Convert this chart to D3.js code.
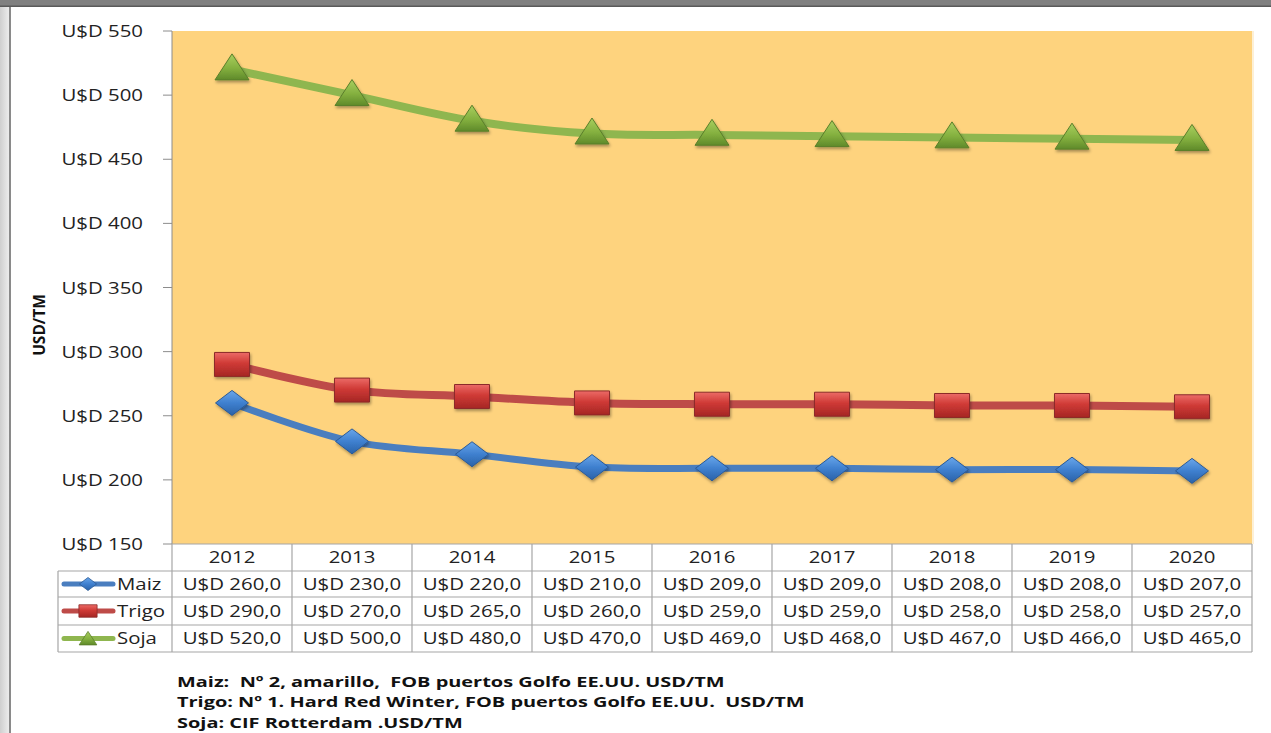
<!DOCTYPE html>
<html><head><meta charset="utf-8">
<script src="https://cdn.jsdelivr.net/npm/d3@7"></script>
<style>body{margin:0;background:#fff;}svg{display:block;}</style>
</head><body>
<svg id="c" width="1271" height="733"></svg>
<script>
const years = ["2012","2013","2014","2015","2016","2017","2018","2019","2020"];
const maiz  = [260,230,220,210,209,209,208,208,207];
const trigo = [290,270,265,260,259,259,258,258,257];
const soja  = [520,500,480,470,469,468,467,466,465];
const yTicks = [150,200,250,300,350,400,450,500,550];
const seriesNames = ["Maiz","Trigo","Soja"];
const notes = [
  "Maiz:  Nº 2, amarillo,  FOB puertos Golfo EE.UU. USD/TM",
  "Trigo: Nº 1. Hard Red Winter, FOB puertos Golfo EE.UU.  USD/TM",
  "Soja: CIF Rotterdam .USD/TM"
];

const svg = d3.select("#c");
const FONT = "'Open Sans', sans-serif";
const SX = 1.2;
const L = 172, R = 1252, T = 31, B = 544;
const x = d3.scaleBand().domain(years).range([L, R]);
const cx = d => x(d) + x.bandwidth()/2;
const y = d3.scaleLinear().domain([150,550]).range([B, T]);

const defs = svg.append("defs");
function grad(id, stops){
  const g = defs.append("linearGradient").attr("id",id).attr("x1",0).attr("y1",0).attr("x2",0).attr("y2",1);
  stops.forEach(s=>g.append("stop").attr("offset",s[0]).attr("stop-color",s[1]));
}
grad("gG", [[0,"#a9cf5f"],[0.55,"#84b03f"],[1,"#5f8a2a"]]);
grad("gR", [[0,"#ec6b67"],[0.45,"#cf3a36"],[1,"#a52624"]]);
grad("gB", [[0,"#69a6ea"],[0.5,"#3f80cf"],[1,"#2a62a8"]]);
const f = defs.append("filter").attr("id","sh").attr("x","-30%").attr("y","-30%").attr("width","160%").attr("height","170%");
f.append("feDropShadow").attr("dx",1).attr("dy",2).attr("stdDeviation",1.5).attr("flood-color","#000").attr("flood-opacity",0.35);

// frame
svg.append("rect").attr("x",0).attr("y",0).attr("width",1271).attr("height",733).attr("fill","#fff");
const lg = defs.append("linearGradient").attr("id","lb").attr("x1",0).attr("x2",1).attr("y1",0).attr("y2",0);
lg.append("stop").attr("offset",0).attr("stop-color","#cfcfcf");
lg.append("stop").attr("offset",1).attr("stop-color","#ececec");
svg.append("rect").attr("x",0).attr("y",0).attr("width",9).attr("height",733).attr("fill","url(#lb)");
svg.append("rect").attr("x",9).attr("y",0).attr("width",2).attr("height",733).attr("fill","#8a8a8a");
svg.append("rect").attr("x",0).attr("y",0).attr("width",1271).attr("height",6).attr("fill","#808080");
svg.append("rect").attr("x",0).attr("y",5.5).attr("width",1271).attr("height",1.5).attr("fill","#5a5a5a");

// plot area
svg.append("rect").attr("x",L).attr("y",T).attr("width",R-L).attr("height",B-T).attr("fill","#fed37e");
svg.append("line").attr("x1",R+1).attr("x2",R+1).attr("y1",T).attr("y2",B).attr("stroke","#fdf0d6").attr("stroke-width",2);

function stext(g, tx, ty, txt, opts){
  const t = g.append("text").attr("transform",`translate(${tx},${ty}) scale(${opts.sx||SX},1)`)
    .attr("font-family",FONT).attr("font-size",opts.size||17).attr("fill",opts.fill||"#222")
    .attr("text-anchor",opts.anchor||"start").style("white-space","pre").text(txt);
  if(opts.weight) t.attr("font-weight",opts.weight);
  return t;
}

// y axis
const ya = svg.append("g");
ya.append("line").attr("x1",L).attr("x2",L).attr("y1",T).attr("y2",B).attr("stroke","#8c8c8c");
yTicks.forEach(v=>{
  ya.append("line").attr("x1",L-9).attr("x2",L).attr("y1",y(v)).attr("y2",y(v)).attr("stroke","#8c8c8c");
  stext(ya, 143, y(v)+6, "U$D "+v, {anchor:"end"});
});
svg.append("text").attr("transform","translate(45,325) rotate(-90)").attr("text-anchor","middle")
  .attr("font-family",FONT).attr("font-weight","bold").attr("font-size",15.5).attr("fill","#111").text("USD/TM");

// series
const series = [
  {name:"Maiz", vals:maiz, line:"#4a7ebf", fill:"url(#gB)", stroke:"#2a5a97", shape:"diamond", w:7},
  {name:"Trigo", vals:trigo, line:"#be4b48", fill:"url(#gR)", stroke:"#8c2b29", shape:"square", w:8},
  {name:"Soja", vals:soja, line:"#8fb64f", fill:"url(#gG)", stroke:"#5a7f2a", shape:"triangle", w:8}
];
function shapePath(shape, s){
  if(shape==="diamond"){const w=16.5*s,h=12.5*s;return `M0,${-h}L${w},0L0,${h}L${-w},0Z`;}
  if(shape==="square"){const w=17.5*s,h=12*s;return `M${-w},${-h}H${w}V${h}H${-w}Z`;}
  const w=17*s,h=26*s;return `M0,${-h*0.6}L${w},${h*0.4}L${-w},${h*0.4}Z`;
}
const lineGen = d3.line().x((d,i)=>cx(years[i])).y(d=>y(d)).curve(d3.curveCatmullRom.alpha(0.5));
series.forEach(s=>{
  svg.append("path").attr("d",lineGen(s.vals)).attr("fill","none").attr("stroke",s.line)
    .attr("stroke-width",s.w).attr("stroke-linejoin","round");
});
series.forEach(s=>{
  const g = svg.append("g");
  s.vals.forEach((v,i)=>{
    g.append("path").attr("transform",`translate(${cx(years[i])},${y(v)})`).attr("d",shapePath(s.shape,1))
      .attr("fill",s.fill).attr("stroke",s.stroke).attr("stroke-width",1).attr("filter","url(#sh)");
  });
});

// data table
const rowY = [544, 571, 597, 625, 652];
const tb = svg.append("g").attr("stroke","#a6a6a6").attr("stroke-width",1.2);
tb.append("line").attr("x1",L).attr("x2",R).attr("y1",rowY[0]).attr("y2",rowY[0]);
for(let k=1;k<rowY.length;k++) tb.append("line").attr("x1",58).attr("x2",R).attr("y1",rowY[k]).attr("y2",rowY[k]);
years.forEach(yr=>tb.append("line").attr("x1",x(yr)).attr("x2",x(yr)).attr("y1",rowY[0]).attr("y2",rowY[4]));
tb.append("line").attr("x1",R).attr("x2",R).attr("y1",rowY[0]).attr("y2",rowY[4]);
tb.append("line").attr("x1",58).attr("x2",58).attr("y1",rowY[1]).attr("y2",rowY[4]);

const tt = svg.append("g");
years.forEach(yr=>stext(tt, cx(yr), 563, yr, {anchor:"middle"}));
const fmt = v => "U$D " + v.toFixed(1).replace(".",",");
const baseY = [590, 617, 644];
series.forEach((s,r)=>{
  s.vals.forEach((v,i)=>stext(tt, cx(years[i]), baseY[r], fmt(v), {anchor:"middle"}));
  const my = (rowY[r+1]+rowY[r+2])/2;
  tt.append("line").attr("x1",64).attr("x2",113).attr("y1",my).attr("y2",my).attr("stroke",s.line)
    .attr("stroke-width",5).attr("stroke-linecap","round");
  tt.append("path").attr("transform",`translate(88,${my+(s.shape==="triangle"?1:0)})`).attr("d",shapePath(s.shape,0.52))
    .attr("fill",s.fill).attr("stroke",s.stroke).attr("stroke-width",0.8);
  stext(tt, 117, baseY[r], seriesNames[r], {});
});

// notes
const nb = [687, 707, 728];
notes.forEach((n,i)=>stext(svg, 177, nb[i], n, {size:15, weight:"bold", fill:"#111", sx:1.33}));
</script>
</body></html>
